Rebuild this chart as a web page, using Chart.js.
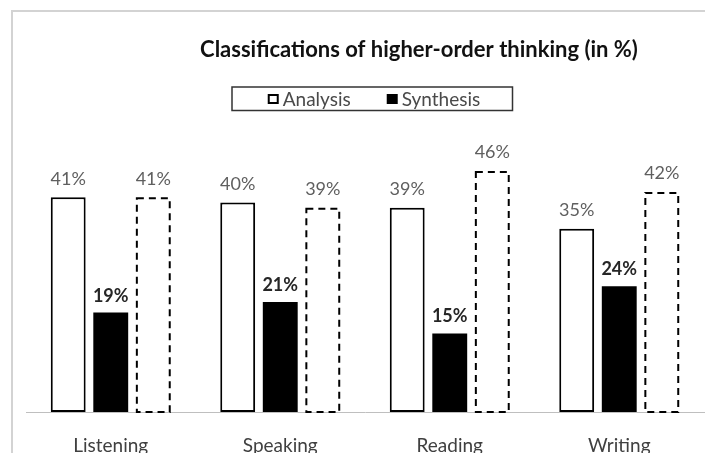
<!DOCTYPE html>
<html><head><meta charset="utf-8">
<script src="https://cdn.jsdelivr.net/npm/chart.js@4.4.1/dist/chart.umd.min.js"></script>
<style>html,body{margin:0;padding:0;background:#fff;overflow:hidden;width:705px;height:453px}canvas{display:block}</style>
</head><body>
<canvas id="c" width="705" height="483"></canvas>
<script>
const categories = ['Listening', 'Speaking', 'Reading', 'Writing'];
const analysis = [41, 40, 39, 35];
const synthesis = [19, 21, 15, 24];
const thirdSeries = [41, 39, 46, 42];
const seriesNames = ['Analysis', 'Synthesis', ''];
const chartTitle = 'Classifications of higher-order thinking (in %)';
const yMax = 50;
const FONT = 'Lato, Carlito, "Liberation Sans", sans-serif';

const framePlugin = {
  id: 'frame',
  beforeDraw(chart) {
    const ctx = chart.ctx;
    ctx.save();
    ctx.fillStyle = '#fff';
    ctx.fillRect(0, 0, chart.width, chart.height);
    ctx.strokeStyle = '#d3d3d3';
    ctx.lineWidth = 2;
    ctx.strokeRect(12, 11, 1000, 1000);
    ctx.restore();
  }
};

const dashedPlugin = {
  id: 'dashedBars',
  afterDatasetsDraw(chart) {
    const ctx = chart.ctx;
    const meta = chart.getDatasetMeta(2);
    ctx.save();
    ctx.strokeStyle = '#000';
    ctx.lineWidth = 2;
    ctx.setLineDash([7, 5]);
    meta.data.forEach(el => {
      const p = el.getProps(['x', 'y', 'base', 'width'], true);
      ctx.strokeRect(p.x - p.width / 2 + 1, p.y + 1, p.width - 2, p.base - p.y - 1);
    });
    ctx.restore();
  }
};

const labelPlugin = {
  id: 'valueLabels',
  afterDatasetsDraw(chart) {
    const ctx = chart.ctx;
    ctx.save();
    ctx.textAlign = 'center';
    ctx.textBaseline = 'alphabetic';
    chart.data.datasets.forEach((ds, i) => {
      const meta = chart.getDatasetMeta(i);
      const bold = i === 1;
      ctx.font = (bold ? 'bold ' : '') + '18px ' + FONT;
      ctx.fillStyle = bold ? '#262626' : '#5f5f5f';
      meta.data.forEach((el, j) => {
        ctx.fillText(ds.data[j] + '%', el.x, el.y - (bold ? 11 : 12.5));
      });
    });
    ctx.restore();
  }
};

const titleLegendPlugin = {
  id: 'titleLegend',
  afterDraw(chart) {
    const ctx = chart.ctx;
    ctx.save();
    // title
    ctx.font = 'bold 22px ' + FONT;
    ctx.fillStyle = '#111';
    ctx.textAlign = 'center';
    ctx.textBaseline = 'alphabetic';
    ctx.fillText(chartTitle, 419, 57);
    // legend box
    ctx.strokeStyle = '#333';
    ctx.lineWidth = 1.5;
    ctx.strokeRect(232, 87, 280.5, 23.5);
    ctx.font = '19px ' + FONT;
    ctx.textAlign = 'left';
    ctx.textBaseline = 'middle';
    const items = chart.data.datasets.filter(d => d.label);
    const sq = 11, gap = 4, itemGap = 36;
    let total = 0;
    items.forEach((d, k) => { total += sq + gap + ctx.measureText(d.label).width + (k ? itemGap : 0); });
    let x = 374 - total / 2;
    const cy = 99;
    items.forEach((d, k) => {
      if (k) x += itemGap;
      if (d.backgroundColor === '#000') {
        ctx.fillStyle = '#000';
        ctx.fillRect(x, cy - 5, sq, 10);
      } else {
        ctx.fillStyle = '#fff';
        ctx.fillRect(x, cy - 5, sq, 10);
        ctx.strokeStyle = '#000';
        ctx.lineWidth = 2;
        ctx.strokeRect(x + 1, cy - 4, sq - 2, 8);
      }
      x += sq + gap;
      ctx.fillStyle = '#4a4a4a';
      ctx.fillText(d.label, x, cy + 1);
      x += ctx.measureText(d.label).width;
    });
    ctx.restore();
  }
};

const barOpts = { categoryPercentage: 0.753, barPercentage: 0.82 };

new Chart(document.getElementById('c'), {
  type: 'bar',
  data: {
    labels: categories,
    datasets: [
      Object.assign({ label: seriesNames[0], data: analysis, backgroundColor: '#fff', borderColor: '#000', borderWidth: 2, borderSkipped: false }, barOpts),
      Object.assign({ label: seriesNames[1], data: synthesis, backgroundColor: '#000', borderWidth: 0 }, barOpts),
      Object.assign({ label: seriesNames[2], data: thirdSeries, backgroundColor: 'rgba(0,0,0,0)', borderWidth: 0 }, barOpts)
    ]
  },
  options: {
    responsive: false,
    animation: false,
    events: [],
    devicePixelRatio: 1,
    layout: { padding: { left: 26, right: 1, top: 150, bottom: 4.1 } },
    plugins: { legend: { display: false }, title: { display: false }, tooltip: { enabled: false } },
    scales: {
      x: {
        grid: { display: false, drawTicks: false },
        border: { display: true, color: '#bfbfbf', width: 1 },
        ticks: { color: '#404040', font: { family: FONT, size: 19 }, padding: 22 }
      },
      y: { display: false, min: 0, max: yMax }
    }
  },
  plugins: [framePlugin, dashedPlugin, labelPlugin, titleLegendPlugin]
});
</script>
</body></html>
